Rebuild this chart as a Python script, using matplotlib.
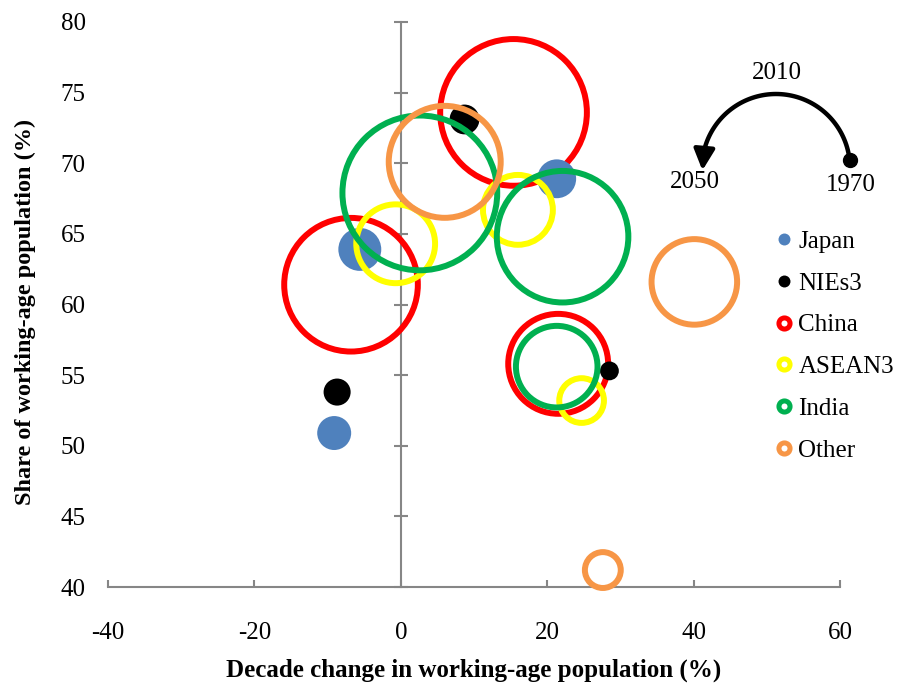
import numpy as np
import matplotlib
matplotlib.use("Agg")
import matplotlib.pyplot as plt
from matplotlib.lines import Line2D
from matplotlib.patches import FancyArrowPatch
from matplotlib.transforms import IdentityTransform

plt.rcParams['font.family'] = ['Liberation Serif', 'DejaVu Serif']
plt.rcParams['axes.unicode_minus'] = False

# Data: points are 1970, 2010, 2050 ; size ~ working-age population (millions)
years = ['1970', '2010', '2050']

japan_x = [21.3, -5.6, -9.1]
japan_y = [68.9, 63.9, 50.9]
japan_pop = [68, 83, 52]

nies_x = [28.5, 8.7, -8.7]
nies_y = [55.3, 73.1, 53.8]
nies_pop = [16, 40, 33]

china_x = [21.5, 15.4, -6.8]
china_y = [55.8, 73.6, 61.4]
china_pop = [450, 970, 805]

asean_x = [24.7, 16.0, -0.7]
asean_y = [53.2, 66.7, 64.3]
asean_pop = [90, 220, 280]

india_x = [21.3, 22.1, 2.6]
india_y = [55.6, 64.8, 67.9]
india_pop = [300, 780, 1080]

other_x = [27.6, 40.1, 6.0]
other_y = [41.2, 61.6, 70.1]
other_pop = [58, 330, 565]

x_ticks = [-40, -20, 0, 20, 40, 60]
y_ticks = [40, 45, 50, 55, 60, 65, 70, 75, 80]

AXIS_GRAY = '#868686'
SIZE_SCALE = 11.5  # points^2 per million
FS = 18

def bubble_area(pop):
    return [SIZE_SCALE * p for p in pop]

fig = plt.figure(figsize=(9.03, 6.86), dpi=100)
ax = fig.add_axes([108 / 903, 1 - 587 / 686, 732 / 903, 565 / 686])

ax.set_xlim(-40, 60)
ax.set_ylim(40, 80)

# China ring sits under the filled dots, the other rings above
ax.scatter(china_x, china_y, s=bubble_area(china_pop), facecolors='none', edgecolors='#FF0000',
           linewidths=4.3, zorder=3, clip_on=False)
ax.scatter(japan_x, japan_y, s=bubble_area(japan_pop), color='#4F81BD', lw=0, zorder=4, clip_on=False)
ax.scatter(nies_x, nies_y, s=bubble_area(nies_pop), color='black', lw=0, zorder=5, clip_on=False)

rings = [
    (asean_x, asean_y, asean_pop, '#FFFF00'),
    (india_x, india_y, india_pop, '#00B050'),
    (other_x, other_y, other_pop, '#F79646'),
]
for i, (xs, ys, pop, col) in enumerate(rings):
    ax.scatter(xs, ys, s=bubble_area(pop), facecolors='none', edgecolors=col,
               linewidths=4.3, zorder=6 + i, clip_on=False)

# axes styling
ax.spines['top'].set_visible(False)
ax.spines['right'].set_visible(False)
ax.spines['left'].set_position(('data', 0))
for side in ['left', 'bottom']:
    ax.spines[side].set_color(AXIS_GRAY)
    ax.spines[side].set_linewidth(1.5)
    ax.spines[side].set_zorder(1)

ax.set_xticks(x_ticks)
ax.set_yticks(y_ticks)
ax.tick_params(axis='y', direction='inout', length=10, width=1.5, color=AXIS_GRAY, labelleft=False)
ax.tick_params(axis='x', direction='in', length=5, width=1.5, color=AXIS_GRAY, pad=25, labelsize=FS)

sec = ax.secondary_yaxis('left')
sec.set_yticks(y_ticks)
sec.spines['left'].set_visible(False)
sec.tick_params(length=0, pad=16, labelsize=FS)

ax.set_xlabel('Decade change in working-age population (%)', fontsize=18, fontweight='bold')
ax.xaxis.set_label_coords(0.5, -0.127)
ax.xaxis.label.set_va('top')
fig.text(25 / 903, 1 - 312 / 686, 'Share of working-age population (%)', rotation=90,
         ha='center', va='center', fontsize=17.5, fontweight='bold')

# legend
handles = [
    Line2D([], [], ls='none', marker='o', ms=8.6, mfc='#4F81BD', mec='none'),
    Line2D([], [], ls='none', marker='o', ms=8.6, mfc='black', mec='none'),
    Line2D([], [], ls='none', marker='o', ms=8, mfc='none', mec='#FF0000', mew=3.6),
    Line2D([], [], ls='none', marker='o', ms=8, mfc='none', mec='#FFFF00', mew=3.6),
    Line2D([], [], ls='none', marker='o', ms=8, mfc='none', mec='#00B050', mew=3.6),
    Line2D([], [], ls='none', marker='o', ms=8, mfc='none', mec='#F79646', mew=3.6),
]
labels = ['Japan', 'NIEs3', 'China', 'ASEAN3', 'India', 'Other']
fig.legend(handles, labels, loc='center left', bbox_to_anchor=(777 / 903, 1 - 346 / 686),
           frameon=False, fontsize=FS, handlelength=0.56, handletextpad=0.3,
           labelspacing=0.77, borderpad=0, borderaxespad=0)

# time-direction key (figure pixels)
cx, cy, r = 776, 518, 74
theta = np.radians(np.linspace(6, 168, 80))
fig.add_artist(Line2D(cx + r * np.cos(theta), cy + r * np.sin(theta), color='black', lw=3.2,
                      transform=IdentityTransform()))
t0, t1 = np.radians(166), np.radians(184)
fig.add_artist(FancyArrowPatch(
    (cx + r * np.cos(t0), cy + r * np.sin(t0)), (cx + r * np.cos(t1), cy + r * np.sin(t1)),
    arrowstyle='-|>,head_length=0.7,head_width=0.35', mutation_scale=18, lw=3.2,
    color='black', transform=IdentityTransform()))
fig.add_artist(Line2D([cx + r * np.cos(np.radians(6))], [cy + r * np.sin(np.radians(6))],
                      marker='o', ms=10, color='black', transform=IdentityTransform()))
fig.text(777 / 903, 1 - 73 / 686, years[1], ha='center', va='center', fontsize=FS)
fig.text(695 / 903, 1 - 182 / 686, years[2], ha='center', va='center', fontsize=FS)
fig.text(851 / 903, 1 - 185 / 686, years[0], ha='center', va='center', fontsize=FS)

fig.savefig('out.png', dpi=100)
